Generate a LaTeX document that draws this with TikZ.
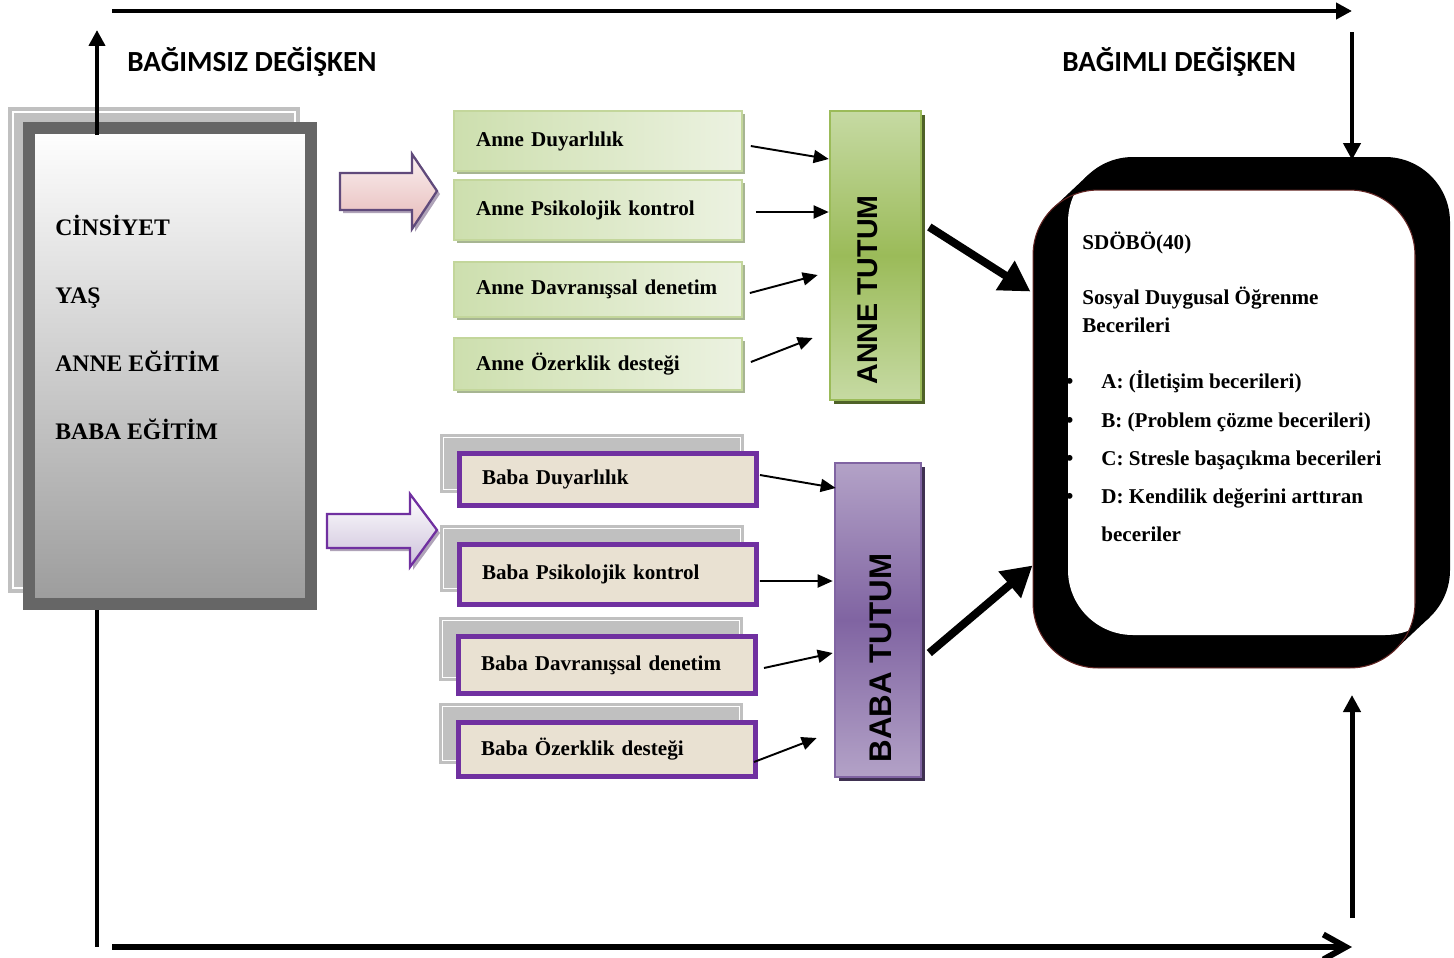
\documentclass[tikz,border=0pt]{standalone}
\usepackage{fontspec}
\setmainfont{Liberation Serif}
\setsansfont{Carlito}
\newfontfamily\arialfont{Liberation Sans}
\usetikzlibrary{arrows.meta,shadows}

\definecolor{shgray}{HTML}{C0C0C0}
\definecolor{boxdark}{HTML}{666666}
\definecolor{boxbottom}{HTML}{9C9C9C}
\definecolor{annedark}{HTML}{CDDFAE}
\definecolor{annepale}{HTML}{ECF2E1}
\definecolor{anneline}{HTML}{C3D69B}
\definecolor{anneshadow}{HTML}{A7B592}
\definecolor{annetop}{HTML}{C6DAA3}
\definecolor{annemid}{HTML}{9BBB59}
\definecolor{anneedge}{HTML}{4F6228}
\definecolor{babaline}{HTML}{7030A0}
\definecolor{canvas}{HTML}{E9E1D2}
\definecolor{babatop}{HTML}{B3A2C7}
\definecolor{babamid}{HTML}{8064A2}
\definecolor{babaedge}{HTML}{3F3151}
\definecolor{pinktop}{HTML}{FAF0F0}
\definecolor{pinkbot}{HTML}{E6B9B8}
\definecolor{arrowline}{HTML}{604A7B}
\definecolor{lavbot}{HTML}{CCC0DA}
\definecolor{arrowshadow}{HTML}{AFA3B8}
\definecolor{frameline}{HTML}{632523}

\newcommand\factorfont{\fontsize{13.5}{16}\selectfont\bfseries}
\newcommand\boxlabelfont{\fontsize{12}{14}\selectfont\bfseries}
\newcommand\axisfont{\fontsize{16.6}{19}\selectfont\sffamily\bfseries}
\newcommand\tutumfont{\fontsize{16.3}{19}\selectfont\arialfont\bfseries}
\newcommand\babatutumfont{\fontsize{17.8}{20}\selectfont\arialfont\bfseries}

\begin{document}
\begin{tikzpicture}[x=0.02cm,y=-0.02cm]

	\tikzset{axis/.style={line width=0.08cm, -{Triangle[length=0.32cm,width=0.32cm]}}}
	\tikzset{link/.style={line width=1.1pt, -{Triangle[length=0.3cm,width=0.26cm]}}}
	\tikzset{big link/.style={line width=0.16cm, -{Triangle[length=0.6cm,width=0.66cm]}}}
	\tikzset{anne box/.style={draw=anneline, line width=1pt, left color=annedark, right color=annepale, text width=4.88cm, inner xsep=0.44cm, align=left, font=\boxlabelfont, drop shadow={shadow xshift=0.06cm, shadow yshift=-0.06cm, fill=anneshadow, opacity=1}}}
	\tikzset{baba box/.style={draw=babaline, line width=0.1cm, fill=canvas, text width=5.04cm, inner xsep=0.45cm, align=left, font=\boxlabelfont, general shadow={shadow xshift=-0.32cm, shadow yshift=0.32cm, fill=shgray, draw=shgray, double=white, double distance=0.6pt, line width=1.6pt}}}
	\tikzset{block arrow/.style={line width=1.3pt, drop shadow={shadow xshift=0.06cm, shadow yshift=-0.06cm, fill=arrowshadow, opacity=1}}}
	\tikzset{word/.style={anchor=base west, inner sep=0pt, font=\boxlabelfont}}

	\useasboundingbox (0,0) rectangle (1454,957);

	\coordinate (indep) at (97,30);
	\coordinate (corner) at (97,947);
	\coordinate (topleft) at (112,11);
	\coordinate (topright) at (1352,11);
	\coordinate (botleft) at (112,947);
	\coordinate (botright) at (1352,947);
	\coordinate (depup) at (1352,32);
	\coordinate (depupend) at (1352,160);
	\coordinate (depdown) at (1352,918);
	\coordinate (depdownend) at (1352,695);

	% demographic box
	\fill[shgray] (8,107) rectangle (300,593);
	\draw[white, line width=0.8pt] (13,112) rectangle (295,588);
	\node[draw=boxdark, line width=0.24cm, top color=white, bottom color=boxbottom, minimum width=5.64cm, minimum height=9.52cm] (demog) at (170,366) {};

	\node[word, font=\factorfont] (cins) at (55,235) {CİNSİYET};
	\node[word, font=\factorfont] (yas) at (55,303) {YAŞ};
	\node[word, font=\factorfont] (anneeg) at (55,371) {ANNE EĞİTİM};
	\node[word, font=\factorfont] (babaeg) at (55,439) {BABA EĞİTİM};

	\node[word, font=\axisfont] (bagimsiz) at (127,71) {BAĞIMSIZ DEĞİŞKEN};
	\node[word, font=\axisfont] (bagimli) at (1062,71) {BAĞIMLI DEĞİŞKEN};

	\draw[axis] ([shift={(-73,13)}]demog.north) -- (indep);
	\draw[line width=0.08cm] ([shift={(-73,0)}]demog.south) -- (corner);
	\draw[axis] (topleft) -- (topright);
	\draw[line width=0.12cm, -{Straight Barb[length=0.45cm,width=0.5cm]}] (botleft) -- (botright);
	\draw[line width=0.09cm, -{Triangle[length=0.34cm,width=0.34cm]}] (depup) -- (depupend);
	\draw[line width=0.1cm, -{Triangle[length=0.34cm,width=0.34cm]}] (depdown) -- (depdownend);

	% block arrows
	\filldraw[block arrow, draw=arrowline, top color=pinktop, bottom color=pinkbot] (340,173) -- (412,173) -- (412,154) -- (437,191) -- (412,229) -- (412,210) -- (340,210) -- cycle;
	\filldraw[block arrow, draw=babaline, top color=white, bottom color=lavbot] (327,514) -- (410,514) -- (410,494) -- (437,530) -- (410,567) -- (410,548) -- (327,548) -- cycle;

	% mother
	\node[anne box, minimum height=1.2cm] (ad) at (598,141) {Anne Duyarlılık};
	\node[anne box, minimum height=1.2cm] (apk) at (598,210) {Anne Psikolojik kontrol};
	\node[anne box, minimum height=1.1cm] (adv) at (598,289.5) {Anne Davranışsal denetim};
	\node[anne box, minimum height=1.04cm] (aoz) at (598,364) {Anne Özerklik desteği};

	\node[draw=annemid, line width=1.5pt, top color=annetop, bottom color=annetop, middle color=annemid, minimum width=1.82cm, minimum height=5.78cm, drop shadow={shadow xshift=0.08cm, shadow yshift=-0.08cm, fill=anneedge, opacity=1}, label={[xshift=-0.15cm, yshift=-0.69cm, rotate=90, font=\tutumfont]center:ANNE TUTUM}] (annetutum) at (875.5,255.5) {};

	\draw[link] ([shift={(8,5)}]ad.east) -- ([shift={(0,-96.5)}]annetutum.west);
	\draw[link] ([shift={(13,2)}]apk.east) -- ([shift={(0,-43.5)}]annetutum.west);
	\draw[link] ([shift={(7,3.5)}]adv.east) -- ([shift={(-11,19.5)}]annetutum.west);
	\draw[link] ([shift={(8,-2)}]aoz.east) -- ([shift={(-16,82.5)}]annetutum.west);

	% father
	\node[baba box, minimum height=1.04cm] (bd) at (608,479.5) {Baba Duyarlılık};
	\node[baba box, minimum height=1.2cm] (bpk) at (608,574.5) {Baba Psikolojik kontrol};
	\node[baba box, minimum height=1.14cm] (bdv) at (607,665) {Baba Davranışsal denetim};
	\node[baba box, minimum height=1.08cm] (boz) at (607,749.5) {Baba Özerklik desteği};

	\node[draw=babamid, line width=1.5pt, top color=babatop, bottom color=babatop, middle color=babamid, minimum width=1.72cm, minimum height=6.28cm, drop shadow={shadow xshift=0.08cm, shadow yshift=-0.08cm, fill=babaedge, opacity=1}, label={[xshift=0.06cm, yshift=-0.76cm, rotate=90, font=\babatutumfont]center:BABA TUTUM}] (babatutum) at (878,620) {};

	\draw[link] ([shift={(1,-4.5)}]bd.east) -- ([shift={(2,-132)}]babatutum.west);
	\draw[link] ([shift={(1,6.5)}]bpk.east) -- ([shift={(-1,-39)}]babatutum.west);
	\draw[link] ([shift={(6,3)}]bdv.east) -- ([shift={(-1,33)}]babatutum.west);
	\draw[link] ([shift={(-4,12.5)}]boz.east) -- ([shift={(-17,118)}]babatutum.west);

	% outcome
	\fill (1053.4,207.7) -- (1088.4,174.7) -- (1429.6,617.3) -- (1394.6,650.3) -- cycle;
	\fill[rounded corners=1.3cm] (1033,190) rectangle (1415,668);
	\fill[rounded corners=1.3cm] (1068,157) rectangle (1450,635);
	\begin{scope}
		\clip[rounded corners=1.3cm] (1033,190) rectangle (1415,668);
		\fill[white, rounded corners=1.3cm] (1068,157) rectangle (1450,635);
	\end{scope}
	\node[draw=frameline, line width=0.6pt, rounded corners=1.3cm, minimum width=7.64cm, minimum height=9.56cm] (sdobo) at (1224,429) {};

	\node[word] (olcek) at (1082,249) {SDÖBÖ(40)};
	\node[word] (sdo1) at (1082,304) {Sosyal Duygusal Öğrenme};
	\node[word] (sdo2) at (1082,332) {Becerileri};

	\node[word, font=\fontsize{14}{16}\selectfont] (ba) at (1065,389) {\textbullet};
	\node[word, font=\fontsize{14}{16}\selectfont] (bb) at (1065,428) {\textbullet};
	\node[word, font=\fontsize{14}{16}\selectfont] (bc) at (1065,466) {\textbullet};
	\node[word, font=\fontsize{14}{16}\selectfont] (bdot) at (1065,504) {\textbullet};
	\node[word] (ia) at (1101,388) {A: (İletişim becerileri)};
	\node[word] (ib) at (1101,427) {B: (Problem çözme becerileri)};
	\node[word] (ic) at (1101,465) {C: Stresle başaçıkma becerileri};
	\node[word] (id) at (1101,503) {D: Kendilik değerini arttıran};
	\node[word] (id2) at (1101,541) {beceriler};

	\draw[big link] ([shift={(7,-28.5)}]annetutum.east) -- ([shift={(-2,102)}]sdobo.north west);
	\draw[big link] ([shift={(7,33)}]babatutum.east) -- ([shift={(0,-103)}]sdobo.south west);

\end{tikzpicture}
\end{document}
